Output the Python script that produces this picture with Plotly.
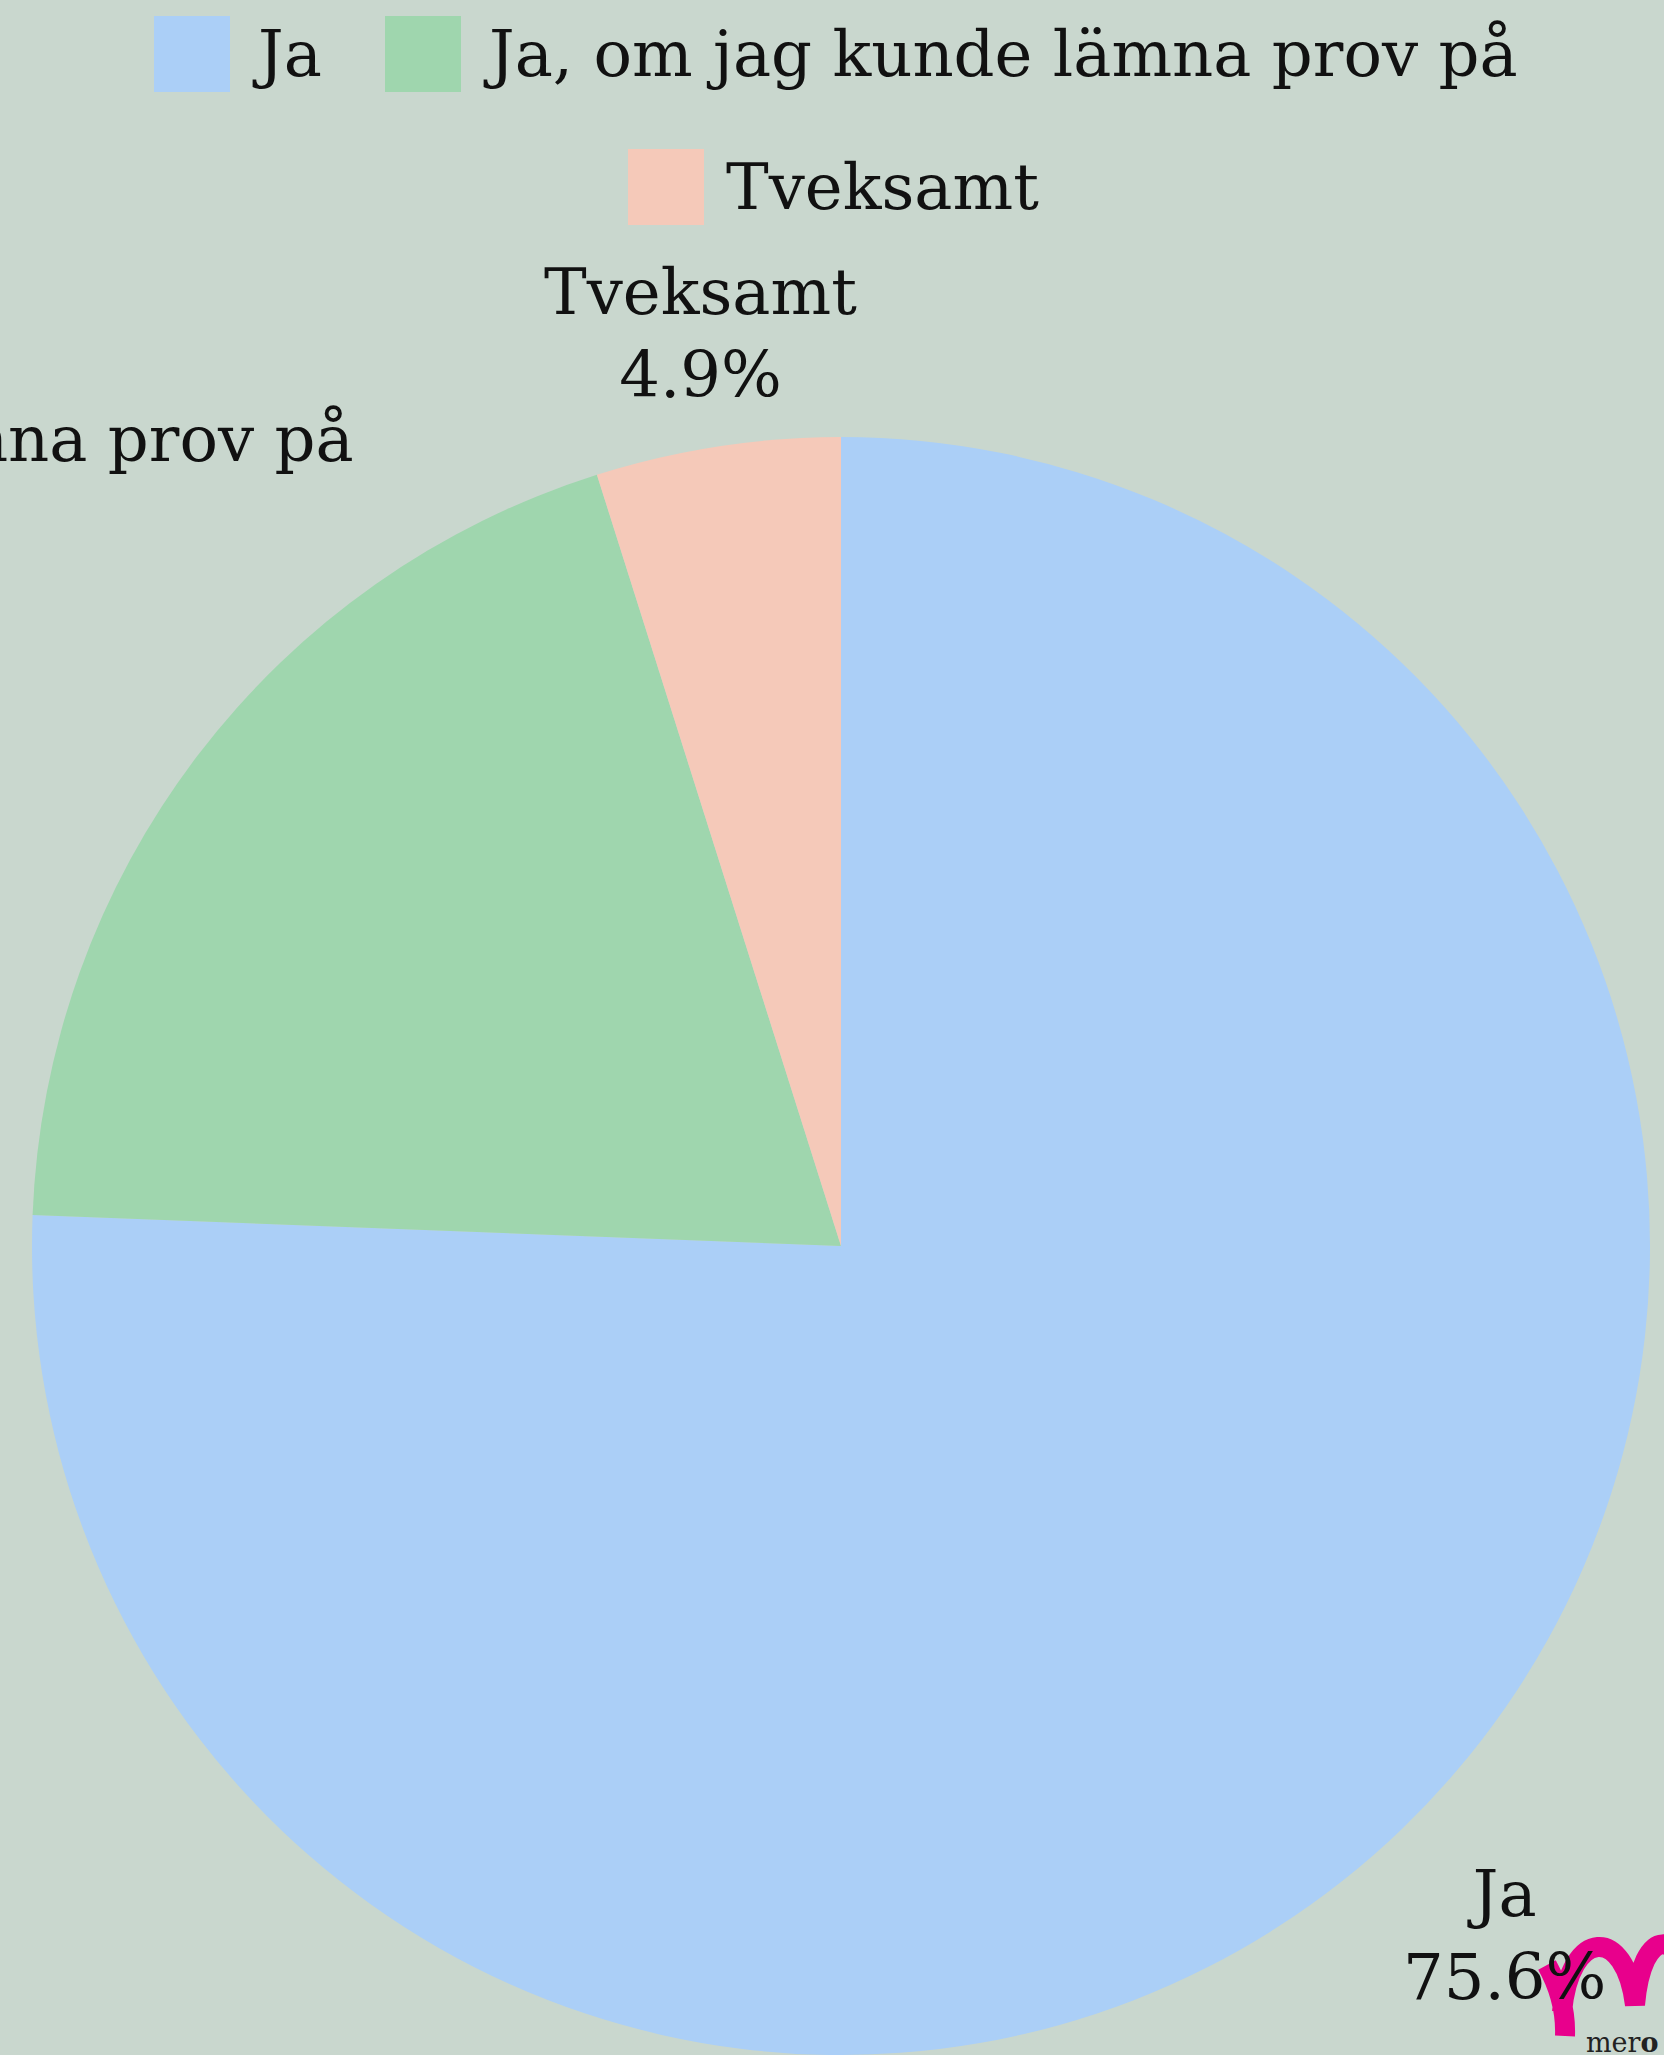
import math
import plotly.graph_objects as go

# survey answers (counts -> 75.6 / 19.5 / 4.9 %)
labels = ["Ja", "Ja, om jag kunde lämna prov på", "Tveksamt"]
counts = [31, 8, 2]
colors = ["#abcff7", "#9fd6ae", "#f5c9b9"]

BG = "#c9d7ce"
FONT = "DejaVu Serif"
FS = 64

W, H = 1664, 2055
L, R, T, B = 30, 12, 437, 0
PW, PH = W - L - R, H - T - B

# pie geometry in page pixels (plotly centres the pie in the plot area)
CX, CY = L + PW / 2, T + PH / 2
RAD = min(PW, PH) / 2
# how far outside the rim each slice label sits
label_gap = [148, 454, 114]


def px(x):
    return (x - L) / PW


def py(y):
    return (H - B - y) / PH


fig = go.Figure()
fig.add_trace(
    go.Pie(
        labels=labels,
        values=counts,
        sort=False,
        direction="clockwise",
        rotation=0,
        marker=dict(colors=colors, line=dict(width=0)),
        textinfo="none",
        showlegend=False,
        hoverinfo="label+percent",
    )
)

shapes = []
annotations = []

# slice labels on the mid-angle of each slice
total = sum(counts)
cum = 0
for lab, c, gap in zip(labels, counts, label_gap):
    mid = (cum + c / 2) / total * 2 * math.pi
    cum += c
    rr = RAD + gap
    lx = CX + rr * math.sin(mid)
    ly = CY - rr * math.cos(mid)
    annotations.append(
        dict(
            x=px(lx),
            y=py(ly),
            xref="paper",
            yref="paper",
            xanchor="center",
            yanchor="middle",
            text=f"{lab}<br>{c / total * 100:.1f}%",
            showarrow=False,
            font=dict(family=FONT, size=FS, color="#111111"),
        )
    )

# legend drawn by hand so the swatches match the big text
legend_rows = [(0, 0), (1, 0), (2, 1)]
swatch_x = [154, 385, 628]
row_y = [54, 187]
for (i, row), sx in zip(legend_rows, swatch_x):
    cy = row_y[row]
    shapes.append(
        dict(
            type="rect",
            xref="paper",
            yref="paper",
            x0=px(sx),
            x1=px(sx + 76),
            y0=py(cy - 38),
            y1=py(cy + 38),
            fillcolor=colors[i],
            line=dict(width=0),
        )
    )
    annotations.append(
        dict(
            x=px(sx + 96),
            y=py(cy),
            xref="paper",
            yref="paper",
            xanchor="left",
            yanchor="middle",
            text=labels[i],
            showarrow=False,
            font=dict(family=FONT, size=FS, color="#111111"),
        )
    )

# logo in the corner
logo_pts = [
    "M", (1547, 1965), "C", (1558, 1985), (1566, 2010), (1565, 2036),
    "M", (1562, 2012), "C", (1570, 1928), (1625, 1925), (1635, 2005),
    "C", (1642, 1925), (1682, 1925), (1692, 2000),
]
path = ""
for p in logo_pts:
    if isinstance(p, str):
        path += p + " "
    else:
        path += f"{px(p[0]):.5f},{py(p[1]):.5f} "
shapes.append(
    dict(
        type="path",
        xref="paper",
        yref="paper",
        path=path.strip(),
        fillcolor="rgba(0,0,0,0)",
        line=dict(color="#e8008c", width=20),
    )
)
annotations.append(
    dict(
        x=px(1584),
        y=py(2060),
        xref="paper",
        yref="paper",
        xanchor="left",
        yanchor="bottom",
        text="mer<b>o</b>",
        showarrow=False,
        font=dict(family=FONT, size=27, color="#222222"),
    )
)

fig.update_layout(
    width=W,
    height=H,
    paper_bgcolor=BG,
    plot_bgcolor=BG,
    margin=dict(l=L, r=R, t=T, b=B, autoexpand=False),
    shapes=shapes,
    annotations=annotations,
    showlegend=False,
)

fig.write_html(
    "out.html",
    config={"displayModeBar": False},
    post_script="document.body.style.margin='0';document.body.style.background='" + BG + "';",
)
